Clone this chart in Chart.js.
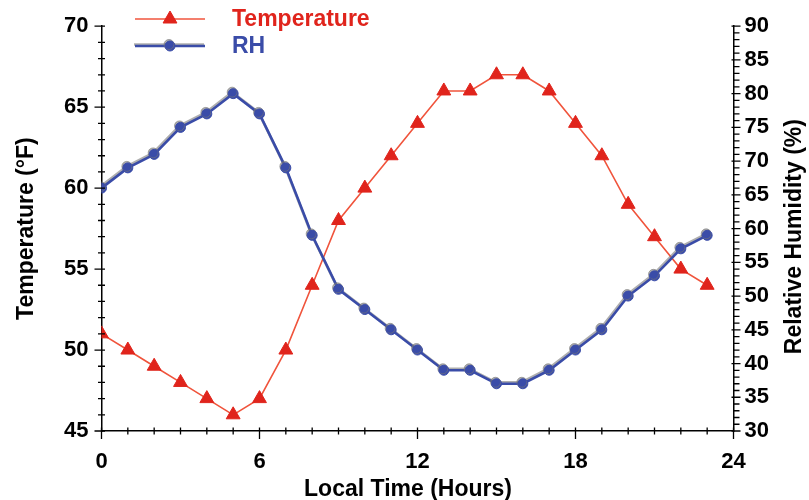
<!DOCTYPE html>
<html>
<head>
<meta charset="utf-8">
<script src="https://cdn.jsdelivr.net/npm/chart.js@4/dist/chart.umd.min.js"></script>
<style>
  body { margin: 0; background: #fff; }
  #wrap { width: 809px; height: 500px; }
</style>
</head>
<body>
<div id="wrap"><canvas id="chart" width="809" height="500"></canvas></div>
<script>
const hours = [0, 1, 2, 3, 4, 5, 6, 7, 8, 9, 10, 11, 12, 13, 14, 15, 16, 17, 18, 19, 20, 21, 22, 23];
const temperature = [51, 50, 49, 48, 47, 46, 47, 50, 54, 58, 60, 62, 64, 66, 66, 67, 67, 66, 64, 62, 59, 57, 55, 54];
const humidity = [66, 69, 71, 75, 77, 80, 77, 69, 59, 51, 48, 45, 42, 39, 39, 37, 37, 39, 42, 45, 50, 53, 57, 59];

const hourTicks = [0, 6, 12, 18, 24];
const tempTicks = [45, 50, 55, 60, 65, 70];
const rhTicks = [30, 35, 40, 45, 50, 55, 60, 65, 70, 75, 80, 85, 90];

const FONT = "'Liberation Sans', Arial, sans-serif";
const RED = "#e0241c";
const RED_LINE = "#f0543c";
const BLUE = "#3a4ca8";
const SHADOW = "rgba(120,120,120,0.6)";

const toPoints = (values) => values.map((v, i) => ({ x: hours[i], y: v }));
const fixTicks = (list) => (scale) => {
  scale.ticks = list.map((v) => ({ value: v }));
};

// grey drop line under the RH curve
const shadowPlugin = {
  id: "shadow",
  beforeDatasetDraw(chart, args) {
    if (args.index !== 1) return;
    const ctx = chart.ctx;
    ctx.save();
    ctx.shadowColor = SHADOW;
    ctx.shadowOffsetX = -1;
    ctx.shadowOffsetY = -1.5;
    ctx.shadowBlur = 0;
  },
  afterDatasetDraw(chart, args) {
    if (args.index !== 1) return;
    chart.ctx.restore();
  },
};

const drawTitle = (ctx, text, x, y, angle) => {
  ctx.save();
  ctx.translate(x, y);
  ctx.rotate(angle);
  ctx.font = "bold 23px " + FONT;
  ctx.fillStyle = "#000";
  ctx.textAlign = "center";
  ctx.textBaseline = "middle";
  ctx.fillText(text, 0, 0);
  ctx.restore();
};

// minor / major tick marks on all three axes, plus the axis titles
const tickPlugin = {
  id: "tickMarks",
  afterDraw(chart) {
    const ctx = chart.ctx;
    const { x, y, y1 } = chart.scales;
    ctx.save();
    ctx.strokeStyle = "#000";
    ctx.lineWidth = 1.3;
    ctx.beginPath();
    for (let v = y.min; v <= y.max; v++) {
      const py = y.getPixelForValue(v);
      const big = v % 5 === 0;
      ctx.moveTo(y.right - (big ? 7 : 3.5), py);
      ctx.lineTo(y.right + 3.5, py);
    }
    for (let v = y1.min; v <= y1.max; v++) {
      const py = y1.getPixelForValue(v);
      const big = v % 5 === 0;
      ctx.moveTo(y1.left - (big ? 2 : 0), py);
      ctx.lineTo(y1.left + (big ? 7 : 6), py);
    }
    for (let v = x.min; v <= x.max; v++) {
      const px = x.getPixelForValue(v);
      const big = v % 6 === 0;
      ctx.moveTo(px, x.top - 3.5);
      ctx.lineTo(px, x.top + (big ? 8 : 3.5));
    }
    ctx.stroke();
    ctx.restore();

    const mid = (chart.chartArea.top + chart.chartArea.bottom) / 2;
    drawTitle(ctx, "Temperature (°F)", 27, mid, -Math.PI / 2);
    drawTitle(ctx, "Relative Humidity (%)", 795, mid + 8, -Math.PI / 2);
    drawTitle(ctx, "Local Time (Hours)", 408, 490, 0);
  },
};

// legend drawn inside the plot, line + marker + coloured label
const legendPlugin = {
  id: "lineLegend",
  afterDraw(chart) {
    const ctx = chart.ctx;
    const items = [
      { ds: chart.data.datasets[0], y: 19, text: RED, shadow: false },
      { ds: chart.data.datasets[1], y: 46, text: BLUE, shadow: true },
    ];
    items.forEach((item) => {
      const ds = item.ds;
      ctx.save();
      if (item.shadow) {
        ctx.shadowColor = SHADOW;
        ctx.shadowOffsetX = -1;
        ctx.shadowOffsetY = -1.5;
      }
      ctx.strokeStyle = ds.borderColor;
      ctx.lineWidth = ds.borderWidth;
      ctx.beginPath();
      ctx.moveTo(135, item.y);
      ctx.lineTo(205, item.y);
      ctx.stroke();
      ctx.fillStyle = ds.pointBackgroundColor;
      ctx.strokeStyle = ds.pointBorderColor;
      ctx.lineWidth = 1;
      Chart.helpers.drawPoint(
        ctx,
        { pointStyle: ds.pointStyle, radius: ds.pointRadius, rotation: 0, borderWidth: 1 },
        170,
        item.y
      );
      ctx.restore();
      ctx.save();
      ctx.font = "bold 23px " + FONT;
      ctx.fillStyle = item.text;
      ctx.textBaseline = "middle";
      ctx.textAlign = "left";
      ctx.fillText(ds.label, 232, item.y + 1);
      ctx.restore();
    });
  },
};

const config = {
  type: "line",
  data: {
    datasets: [
      {
        label: "Temperature",
        data: toPoints(temperature),
        yAxisID: "y",
        borderColor: RED_LINE,
        borderWidth: 1.6,
        pointStyle: "triangle",
        pointRadius: 8,
        pointBackgroundColor: RED,
        pointBorderColor: RED,
        pointBorderWidth: 1,
        order: 2,
      },
      {
        label: "RH",
        data: toPoints(humidity),
        yAxisID: "y1",
        borderColor: BLUE,
        borderWidth: 2.6,
        pointStyle: "circle",
        pointRadius: 5,
        pointBackgroundColor: BLUE,
        pointBorderColor: BLUE,
        pointBorderWidth: 1,
        order: 1,
      },
    ],
  },
  options: {
    responsive: false,
    animation: false,
    layout: { padding: { top: 20, left: 0, right: 0, bottom: 0 } },
    plugins: {
      legend: { display: false },
      tooltip: { enabled: false },
    },
    scales: {
      x: {
        type: "linear",
        min: 0,
        max: 24,
        afterBuildTicks: fixTicks(hourTicks),
        afterFit: (scale) => { scale.height = 69; },
        grid: { drawOnChartArea: false, drawTicks: false },
        border: { display: true, color: "#000", width: 1.5 },
        ticks: { color: "#000", padding: 18, font: { family: FONT, size: 22, weight: "bold" } },
        title: { display: false },
      },
      y: {
        position: "left",
        min: 45,
        max: 70,
        afterBuildTicks: fixTicks(tempTicks),
        afterFit: (scale) => { scale.width = 101.5; },
        grid: { drawOnChartArea: false, drawTicks: false },
        border: { display: true, color: "#000", width: 1.5 },
        ticks: { color: "#000", padding: 13, font: { family: FONT, size: 22, weight: "bold" } },
        title: { display: false },
      },
      y1: {
        position: "right",
        min: 30,
        max: 90,
        afterBuildTicks: fixTicks(rhTicks),
        afterFit: (scale) => { scale.width = 75.5; },
        grid: { drawOnChartArea: false, drawTicks: false },
        border: { display: true, color: "#000", width: 1.5 },
        ticks: { color: "#000", padding: 11, font: { family: FONT, size: 22, weight: "bold" } },
        title: { display: false },
      },
    },
  },
  plugins: [shadowPlugin, tickPlugin, legendPlugin],
};

new Chart(document.getElementById("chart"), config);
</script>
</body>
</html>
